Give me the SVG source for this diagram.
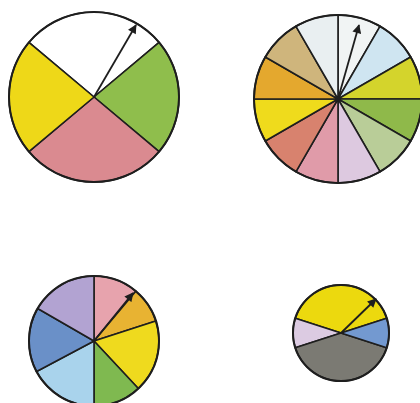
<svg xmlns="http://www.w3.org/2000/svg" width="420" height="403" viewBox="0 0 420 403">
<style>
  .sec { stroke: #1e1e1e; stroke-width: 1.6; stroke-linejoin: round; }
  .rim { fill: none; stroke: #1e1e1e; stroke-width: 2; }
  .arrow { stroke: #1e1e1e; stroke-width: 1.8; fill: none; marker-end: url(#head); }
</style>
<defs>
  <marker id="head" viewBox="0 0 10 10" refX="9" refY="5" markerUnits="userSpaceOnUse" markerWidth="10" markerHeight="9" orient="auto">
    <path d="M0,0 L10,5 L0,10 Z" fill="#1e1e1e"/>
  </marker>
</defs>
<rect width="420" height="403" fill="#ffffff"/>

<g id="spinner1">
  <path class="sec" fill="#ffffff" d="M94,97 L159.1,42.4 A85,85 0 0 0 28.9,42.4 Z"/>
  <path class="sec" fill="#8fbe4c" d="M94,97 L159.1,151.6 A85,85 0 0 0 159.1,42.4 Z"/>
  <path class="sec" fill="#da8a90" d="M94,97 L28.9,151.6 A85,85 0 0 0 159.1,151.6 Z"/>
  <path class="sec" fill="#eed818" d="M94,97 L28.9,42.4 A85,85 0 0 0 28.9,151.6 Z"/>
  <circle class="rim" cx="94" cy="97" r="85"/>
  <line class="arrow" x1="94" y1="97" x2="136" y2="25"/>
</g>

<g id="spinner2">
  <path class="sec" fill="#f1f4f4" d="M338,99 L380,26.3 A84,84 0 0 0 338,15 Z"/>
  <path class="sec" fill="#cfe5f1" d="M338,99 L410.7,57 A84,84 0 0 0 380,26.3 Z"/>
  <path class="sec" fill="#d4d42c" d="M338,99 L422,99 A84,84 0 0 0 410.7,57 Z"/>
  <path class="sec" fill="#8fb94a" d="M338,99 L410.7,141 A84,84 0 0 0 422,99 Z"/>
  <path class="sec" fill="#b9cd98" d="M338,99 L380,171.7 A84,84 0 0 0 410.7,141 Z"/>
  <path class="sec" fill="#ddc9e0" d="M338,99 L338,183 A84,84 0 0 0 380,171.7 Z"/>
  <path class="sec" fill="#e09ba9" d="M338,99 L296,171.7 A84,84 0 0 0 338,183 Z"/>
  <path class="sec" fill="#d8826e" d="M338,99 L265.3,141 A84,84 0 0 0 296,171.7 Z"/>
  <path class="sec" fill="#efdb1c" d="M338,99 L254,99 A84,84 0 0 0 265.3,141 Z"/>
  <path class="sec" fill="#e4a82e" d="M338,99 L265.3,57 A84,84 0 0 0 254,99 Z"/>
  <path class="sec" fill="#cfb57c" d="M338,99 L296,26.3 A84,84 0 0 0 265.3,57 Z"/>
  <path class="sec" fill="#e9eff1" d="M338,99 L338,15 A84,84 0 0 0 296,26.3 Z"/>
  <circle class="rim" cx="338" cy="99" r="84"/>
  <circle cx="338" cy="99" r="3" fill="#1e1e1e"/>
  <line class="arrow" x1="338" y1="99" x2="359" y2="25"/>
</g>

<g id="spinner3">
  <path class="sec" fill="#e7a3ad" d="M94,341 L135.8,291.2 A65,65 0 0 0 94,276 Z"/>
  <path class="sec" fill="#e8b332" d="M94,341 L155.8,320.9 A65,65 0 0 0 135.8,291.2 Z"/>
  <path class="sec" fill="#efda1e" d="M94,341 L138.3,388.5 A65,65 0 0 0 155.8,320.9 Z"/>
  <path class="sec" fill="#7fb950" d="M94,341 L94,406 A65,65 0 0 0 138.3,388.5 Z"/>
  <path class="sec" fill="#a9d3ec" d="M94,341 L36.6,371.5 A65,65 0 0 0 94,406 Z"/>
  <path class="sec" fill="#6a90c8" d="M94,341 L37.7,308.5 A65,65 0 0 0 36.6,371.5 Z"/>
  <path class="sec" fill="#b2a3d2" d="M94,341 L94,276 A65,65 0 0 0 37.7,308.5 Z"/>
  <circle class="rim" cx="94" cy="341" r="65"/>
  <line class="arrow" x1="94" y1="341" x2="133" y2="293"/>
</g>

<g id="spinner4">
  <path class="sec" fill="#ecd90e" d="M341,333 L386.7,318.2 A48,48 0 0 0 295.3,318.2 Z"/>
  <path class="sec" fill="#dccbe2" d="M341,333 L295.3,318.2 A48,48 0 0 0 295.3,347.8 Z"/>
  <path class="sec" fill="#7b7a73" d="M341,333 L295.3,347.8 A48,48 0 0 0 386.7,347.8 Z"/>
  <path class="sec" fill="#7399d0" d="M341,333 L386.7,347.8 A48,48 0 0 0 386.7,318.2 Z"/>
  <circle class="rim" cx="341" cy="333" r="48"/>
  <line class="arrow" x1="341" y1="333" x2="376" y2="299"/>
</g>
</svg>
